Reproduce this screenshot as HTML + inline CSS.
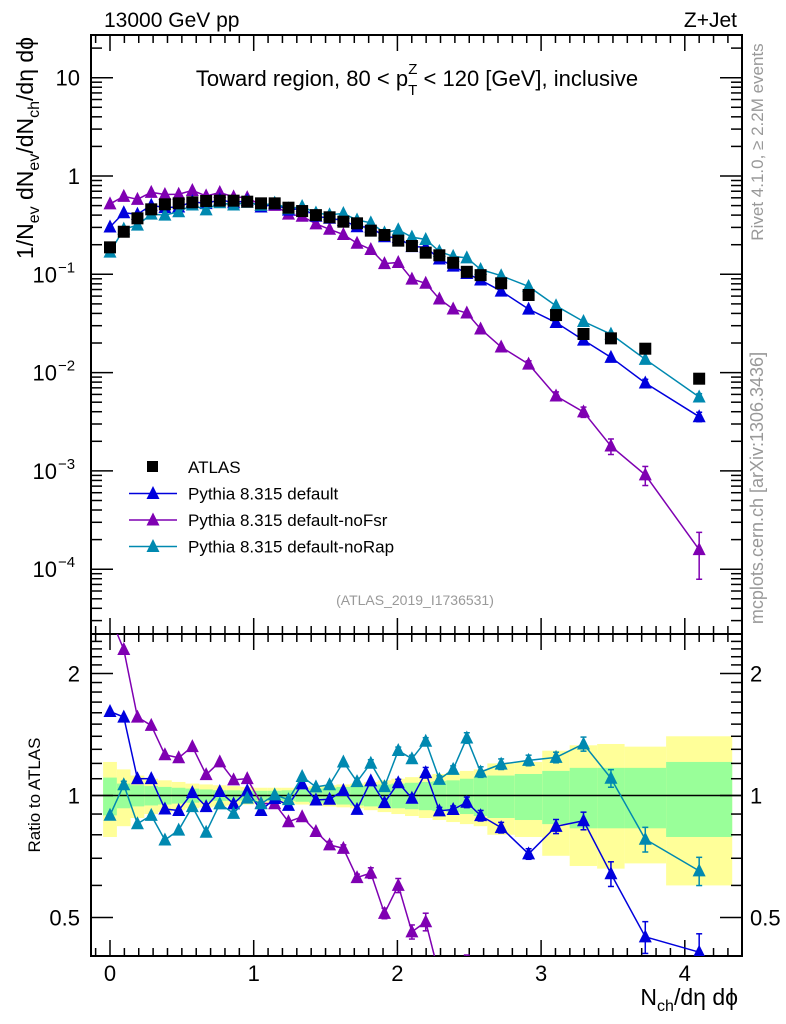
<!DOCTYPE html>
<html><head><meta charset="utf-8"><style>
html,body{margin:0;padding:0;background:#fff;overflow:hidden;width:786px;height:1024px;}
svg{display:block;font-family:"Liberation Sans",sans-serif;}
</style></head><body>
<svg id="chart" width="786" height="1024" viewBox="0 0 786 1024" xmlns="http://www.w3.org/2000/svg">
<g id="bands"></g>
<g id="axes"></g>
<g id="series"></g>
<g id="labels">
<text x="104" y="27" font-size="21">13000 GeV pp</text>
<text x="737" y="27" font-size="21" text-anchor="end">Z+Jet</text>
<text x="417" y="86" font-size="22" text-anchor="middle">Toward region, 80 &lt; p<tspan font-size="15" dy="9">T</tspan><tspan font-size="15" dx="-9" dy="-21">Z</tspan><tspan dy="12"> &lt; 120 [GeV], inclusive</tspan></text>
<text transform="translate(33,148) rotate(-90)" font-size="23" text-anchor="middle">1/N<tspan font-size="16" dy="6">ev</tspan><tspan dy="-6"> dN</tspan><tspan font-size="16" dy="6">ev</tspan><tspan dy="-6">/dN</tspan><tspan font-size="16" dy="6">ch</tspan><tspan dy="-6">/dη dϕ</tspan></text>
<text transform="translate(763,142) rotate(-90)" font-size="17" fill="#999" text-anchor="middle">Rivet 4.1.0, ≥ 2.2M events</text>
<text transform="translate(763,488) rotate(-90)" font-size="18" fill="#999" text-anchor="middle">mcplots.cern.ch [arXiv:1306.3436]</text>
<text x="415" y="605" font-size="14" fill="#999" text-anchor="middle">(ATLAS_2019_I1736531)</text>
<text transform="translate(40,795) rotate(-90)" font-size="17" text-anchor="middle">Ratio to ATLAS</text>
<text x="738" y="1005" font-size="23" text-anchor="end">N<tspan font-size="16" dy="6">ch</tspan><tspan dy="-6">/dη dϕ</tspan></text>
</g>
<g id="legend"></g>
</svg>
<script>
const xCenters=[0,0.096,0.191,0.287,0.382,0.478,0.573,0.669,0.764,0.860,0.955,1.051,1.146,1.242,1.337,1.433,1.528,1.624,1.719,1.815,1.910,2.006,2.101,2.197,2.292,2.388,2.483,2.579,2.722,2.913,3.104,3.295,3.486,3.725,4.10];
const xEdges=[-0.048,0.048,0.143,0.239,0.334,0.430,0.525,0.621,0.716,0.812,0.907,1.003,1.098,1.194,1.289,1.385,1.480,1.576,1.671,1.767,1.862,1.958,2.053,2.149,2.244,2.340,2.435,2.531,2.626,2.817,3.008,3.199,3.390,3.581,3.870,4.330];
const atlas=[0.188,0.271,0.371,0.458,0.515,0.527,0.540,0.557,0.561,0.561,0.548,0.527,0.527,0.476,0.44,0.40,0.38,0.343,0.330,0.278,0.251,0.22,0.194,0.166,0.156,0.131,0.106,0.098,0.081,0.0616,0.0385,0.0247,0.0223,0.0175,0.00867];
const pyDefault=[0.303,0.423,0.408,0.504,0.477,0.484,0.549,0.523,0.574,0.535,0.563,0.484,0.518,0.450,0.470,0.390,0.372,0.353,0.305,0.302,0.241,0.2365,0.191,0.189,0.143,0.121,0.102,0.0874,0.0675,0.0442,0.0323,0.0214,0.0143,0.00784,0.00356];
const pyNoFsr=[0.52,0.621,0.579,0.682,0.649,0.653,0.713,0.627,0.679,0.613,0.603,0.504,0.503,0.410,0.390,0.326,0.287,0.254,0.207,0.179,0.1285,0.132,0.0894,0.081,0.0561,0.0443,0.0404,0.0278,0.0182,0.0122,0.00578,0.00398,0.00179,0.00091,0.000158];
const pyNoRap=[0.168,0.288,0.316,0.409,0.400,0.433,0.507,0.452,0.535,0.507,0.540,0.503,0.529,0.465,0.490,0.420,0.404,0.415,0.357,0.334,0.264,0.284,0.239,0.226,0.171,0.152,0.147,0.112,0.0968,0.0752,0.0478,0.0331,0.0246,0.01365,0.00565];
const errDefault=[0.01,0.01,0.01,0.01,0.01,0.01,0.01,0.01,0.01,0.01,0.01,0.01,0.01,0.01,0.01,0.01,0.01,0.01,0.01,0.01,0.02,0.02,0.02,0.03,0.02,0.02,0.03,0.03,0.03,0.03,0.04,0.05,0.07,0.09,0.11];
const errNoFsr=[0.01,0.01,0.01,0.01,0.01,0.01,0.01,0.01,0.01,0.01,0.01,0.01,0.01,0.01,0.01,0.01,0.02,0.02,0.02,0.03,0.03,0.04,0.04,0.05,0.05,0.05,0.06,0.06,0.06,0.08,0.10,0.12,0.18,0.22,0.50];
const errNoRap=[0.01,0.02,0.01,0.01,0.01,0.01,0.01,0.01,0.01,0.01,0.01,0.01,0.01,0.01,0.01,0.01,0.01,0.01,0.02,0.02,0.02,0.02,0.02,0.02,0.02,0.02,0.03,0.03,0.03,0.03,0.03,0.04,0.05,0.07,0.08];
const bandTotal=[0.21,0.16,0.12,0.10,0.09,0.08,0.07,0.065,0.06,0.055,0.05,0.045,0.045,0.045,0.05,0.055,0.06,0.065,0.07,0.08,0.09,0.10,0.11,0.12,0.13,0.14,0.15,0.16,0.20,0.21,0.29,0.33,0.34,0.32,0.40];
const bandStat=[0.107,0.07,0.06,0.055,0.05,0.045,0.04,0.035,0.03,0.03,0.028,0.027,0.027,0.03,0.035,0.04,0.045,0.05,0.055,0.06,0.065,0.07,0.075,0.08,0.085,0.09,0.10,0.11,0.12,0.13,0.15,0.17,0.17,0.17,0.21];
const xTicks=[0,1,2,3,4];
const yUpperTicks=[1,0,-1,-2,-3,-4];
const ratioTickLabels=[0.5,1,2];

const NS="http://www.w3.org/2000/svg";
const L=91,R=742,T1=35,B1=634,B2=956;
const X=d=>110+143.7*d;
const YU=v=>176-98.3*Math.log10(v);
const YRraw=r=>795.5-122*Math.log2(r);
const YR=r=>Math.max(B1-40,Math.min(B2+40,YRraw(r)));
function mk(tag,attrs,parent){const e=document.createElementNS(NS,tag);for(const k in attrs)e.setAttribute(k,attrs[k]);parent.appendChild(e);return e;}
const gA=document.getElementById('axes'),gS=document.getElementById('series'),gB=document.getElementById('bands'),gL=document.getElementById('legend');

const defs=mk('defs',{},document.getElementById('chart'));
const c1=mk('clipPath',{id:'cu'},defs);mk('rect',{x:L,y:T1,width:R-L,height:B1-T1},c1);
const c2=mk('clipPath',{id:'cl'},defs);mk('rect',{x:L,y:B1,width:R-L,height:B2-B1},c2);

const bg=mk('g',{'clip-path':'url(#cl)'},gB);
for(let i=0;i<atlas.length;i++){
  const x0=X(xEdges[i]),x1=X(xEdges[i+1]);
  const y=mk('rect',{x:x0,y:YR(1+bandTotal[i]),width:x1-x0,height:YR(1-bandTotal[i])-YR(1+bandTotal[i]),fill:'#ffff99'},bg);
  
  
  const g=mk('rect',{x:x0,y:YR(1+bandStat[i]),width:x1-x0,height:YR(1-bandStat[i])-YR(1+bandStat[i]),fill:'#99ff99'},bg);
  
  
}
const one=mk('line',{x1:L,x2:R,y1:YR(1),y2:YR(1),stroke:'#000','stroke-width':1.5},gB);



for(const [t,b] of [[T1,B1],[B1,B2]]){
  const f=mk('rect',{x:L,y:t,width:R-L,height:b-t,fill:'none',stroke:'#000','stroke-width':2},gA);
  
  
}
for(let k=-1;k<=44;k++){
  const d=k/10;const x=X(d);if(x<L+1||x>R-1)continue;
  const major=k%10===0;const len=major?16:8;
  for(const [t,b] of [[T1,B1],[B1,B2]]){
    mk('line',{x1:x,x2:x,y1:t,y2:t+len,stroke:'#000','stroke-width':1.5},gA);
    mk('line',{x1:x,x2:x,y1:b,y2:b-len,stroke:'#000','stroke-width':1.5},gA);
  }
}
xTicks.forEach(v=>{const t=mk('text',{x:X(v),y:981,'font-size':22,'text-anchor':'middle'},gA);t.textContent=String(v);
  
  });
for(let e=-5;e<=1;e++){for(let m=1;m<=9;m++){const v=m*Math.pow(10,e);const y=YU(v);if(y<T1+1||y>B1-1)continue;
  const len=m===1?22:11;
  mk('line',{x1:L,x2:L+len,y1:y,y2:y,stroke:'#000','stroke-width':1.5},gA);
  mk('line',{x1:R,x2:R-len,y1:y,y2:y,stroke:'#000','stroke-width':1.5},gA);}}
yUpperTicks.forEach(e=>{const y=YU(Math.pow(10,e))+8;let t;
  if(e===0||e===1){t=mk('text',{x:80,y:y,'font-size':22,'text-anchor':'end'},gA);t.textContent=e===1?'10':'1';}
  else{t=mk('text',{x:57,y:y,'font-size':22,'text-anchor':'end'},gA);t.textContent='10';
    const s=mk('text',{x:58,y:y-10,'font-size':15},gA);s.textContent='−'+(-e);}
  
  });
for(let k=4;k<=25;k++){const r=k/10;const y=YRraw(r);if(y<B1+1||y>B2-1)continue;
  const major=(k===5||k===10||k===20);const len=major?22:11;
  mk('line',{x1:L,x2:L+len,y1:y,y2:y,stroke:'#000','stroke-width':1.5},gA);
  mk('line',{x1:R,x2:R-len,y1:y,y2:y,stroke:'#000','stroke-width':1.5},gA);}
ratioTickLabels.forEach(r=>{const y=YRraw(r)+8;
  const t=mk('text',{x:80,y:y,'font-size':22,'text-anchor':'end'},gA);t.textContent=String(r);
  
  
  const t2=mk('text',{x:750,y:y,'font-size':22},gA);t2.textContent=String(r);
  
  });

function tri(g,x,y,c){const s=6.5;return mk('polygon',{points:`${x},${y-s-1} ${x-s},${y+s-1} ${x+s},${y+s-1}`,fill:c},g);}
function drawSeries(vals,errs,color,name){
  const gu=mk('g',{'clip-path':'url(#cu)'},gS);
  
  
  mk('polyline',{points:vals.map((v,i)=>X(xCenters[i])+','+YU(v)).join(' '),fill:'none',stroke:color,'stroke-width':1.5},gu);
  vals.forEach((v,i)=>{const x=X(xCenters[i]);const e=errs[i]*v;
    if(YU(v-e)-YU(v+e)>6){mk('line',{x1:x,x2:x,y1:YU(v+e),y2:YU(Math.max(v-e,v*0.05)),stroke:color,'stroke-width':1.5},gu);
      mk('line',{x1:x-3,x2:x+3,y1:YU(v+e),y2:YU(v+e),stroke:color,'stroke-width':1.5},gu);
      mk('line',{x1:x-3,x2:x+3,y1:YU(v-e),y2:YU(v-e),stroke:color,'stroke-width':1.5},gu);}
    const p=tri(gu,x,YU(v),color);
    
    });
  const gl=mk('g',{'clip-path':'url(#cl)'},gS);
  
  
  const rs=vals.map((v,i)=>v/atlas[i]);
  // draw line segments, clipping off-panel ones by interpolation
  for(let i=0;i+1<rs.length;i++){
    let xa=X(xCenters[i]),ya=YRraw(rs[i]),xb=X(xCenters[i+1]),yb=YRraw(rs[i+1]);
    const lo=B1-20,hi=B2+20;
    if((ya<lo&&yb<lo)||(ya>hi&&yb>hi))continue;
    const cl=(x1,y1,x2,y2)=>{let lim=y1<lo?lo:(y1>hi?hi:null);if(lim===null)return [x1,y1];const t=(lim-y1)/(y2-y1);return [x1+t*(x2-x1),lim];};
    [xa,ya]=cl(xa,ya,xb,yb);[xb,yb]=cl(xb,yb,xa,ya);
    mk('line',{x1:xa,y1:ya,x2:xb,y2:yb,stroke:color,'stroke-width':1.5},gl);
  }
  rs.forEach((r,i)=>{const x=X(xCenters[i]);const e=errs[i]*r;
    if(YRraw(r)<B1-10||YRraw(r)>B2+10)return;
    if(YR(r-e)-YR(r+e)>6){mk('line',{x1:x,x2:x,y1:YR(r+e),y2:YR(r-e),stroke:color,'stroke-width':1.5},gl);
      mk('line',{x1:x-3,x2:x+3,y1:YR(r+e),y2:YR(r+e),stroke:color,'stroke-width':1.5},gl);
      mk('line',{x1:x-3,x2:x+3,y1:YR(r-e),y2:YR(r-e),stroke:color,'stroke-width':1.5},gl);}
    const p=tri(gl,x,YR(r),color);
    
    });
}
drawSeries(pyNoFsr,errNoFsr,'#7f00b2','pythia-nofsr');
drawSeries(pyDefault,errDefault,'#0000dd','pythia-default');
drawSeries(pyNoRap,errNoRap,'#0089b0','pythia-norap');
const ga=mk('g',{'clip-path':'url(#cu)'},gS);
atlas.forEach((v,i)=>{const r=mk('rect',{x:X(xCenters[i])-6,y:YU(v)-6,width:12,height:12,fill:'#000'},ga);
  
  });

const items=[['ATLAS','#000','sq'],['Pythia 8.315 default','#0000dd','tri'],['Pythia 8.315 default-noFsr','#7f00b2','tri'],['Pythia 8.315 default-noRap','#0089b0','tri']];
items.forEach((it,i)=>{const y=467+i*26.5;
  const g=mk('g',{},gL);
  
  
  if(it[2]==='sq'){mk('rect',{x:147,y:y-6,width:11,height:11,fill:'#000'},g);}
  else{mk('line',{x1:129,x2:177,y1:y,y2:y,stroke:it[1],'stroke-width':1.5},g);tri(g,153,y,it[1]);}
  const t=mk('text',{x:188,y:y+6,'font-size':17},g);t.textContent=it[0];});
</script>
</body></html>
